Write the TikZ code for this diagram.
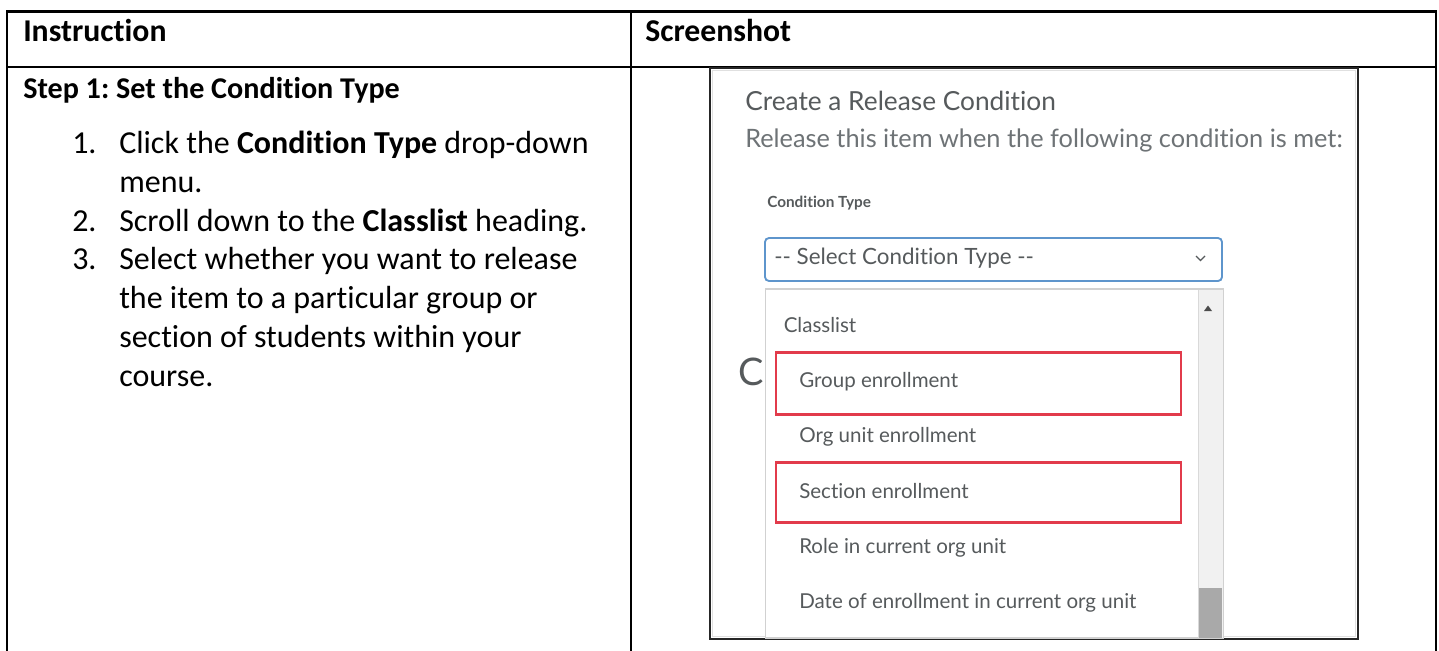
\documentclass[tikz,border=0pt]{standalone}
\usepackage{fontspec}
\setmainfont{Carlito}[Ligatures=NoCommon]
\newfontfamily\lato{Lato}[Ligatures=NoCommon]
\frenchspacing
\definecolor{uigray}{HTML}{565A5C}
\definecolor{uilight}{HTML}{6E7376}
\definecolor{ddblue}{HTML}{5E95CC}
\definecolor{redmark}{HTML}{E23B4B}
\definecolor{trackgray}{HTML}{F1F1F1}
\definecolor{thumbgray}{HTML}{A9A9A9}
\tikzset{
  tabline/.style={line width=1.9pt, line cap=rect},
  hdrtext/.style={anchor=base west, inner sep=0pt, font=\bfseries\fontsize{23.8}{28}\selectfont},
  steptext/.style={anchor=base west, inner sep=0pt, font=\bfseries\fontsize{22.6}{28}\selectfont},
  bodytext/.style={anchor=base west, inner sep=0pt, font=\fontsize{24}{29}\selectfont},
  uititle/.style={anchor=base west, inner sep=0pt, text=uigray, font=\lato\fontsize{19.7}{22}\selectfont},
  uisub/.style={anchor=base west, inner sep=0pt, text=uilight, font=\lato\fontsize{19}{21}\selectfont},
  uilabel/.style={anchor=base west, inner sep=0pt, text=uigray, font=\lato\bfseries\fontsize{11.5}{13}\selectfont},
  uiitem/.style={anchor=base west, inner sep=0pt, text=uigray, font=\lato\fontsize{15.4}{17}\selectfont},
  uiselect/.style={anchor=base west, inner sep=0pt, text=uigray, font=\lato\fontsize{16.8}{18}\selectfont},
  redbox/.style={draw=redmark, line width=2.1pt},
}
\begin{document}
\begin{tikzpicture}[x=0.75pt,y=-0.75pt]
\useasboundingbox (0,0) rectangle (1439,650);
\fill[white] (0,0) rectangle (1439,650);
% table frame
\draw[tabline] (7,650) -- (7,11.5) -- (1436,11.5) -- (1436,650);
\draw[tabline] (7,67) -- (1436,67);
\draw[tabline] (631,11.5) -- (631,650);
% header
\node[hdrtext] (hInstr) at (23,41.7) {Instruction};
\node[hdrtext] (hShot) at (645,41.7) {Screenshot};
% instructions
\node[steptext] (step) at (23,98.3) {Step 1: Set the Condition Type};
\node[bodytext] (n1) at (72,153.3) {1.};
\node[bodytext] (l1) at (119,153.3) {Click the \textbf{Condition Type} drop-down};
\node[bodytext] (l1b) at (119,192.2) {menu.};
\node[bodytext] (n2) at (72,231) {2.};
\node[bodytext] (l2) at (119,231) {Scroll down to the \textbf{Classlist} heading.};
\node[bodytext] (n3) at (72,269.8) {3.};
\node[bodytext] (l3) at (119,269.8) {Select whether you want to release};
\node[bodytext] (l3b) at (119,308.6) {the item to a particular group or};
\node[bodytext] (l3c) at (119,347.4) {section of students within your};
\node[bodytext] (l3d) at (119,386.2) {course.};
% screenshot frame
\draw[line width=1.5pt, draw=black!85, fill=white] (710,68) rectangle (1358,639);
\draw[line width=0.8pt, draw=black!12] (712.5,70.5) rectangle (1355.5,636.5);
\node[uititle] (title) at (745,110) {Create a Release Condition};
\node[uisub] (sub) at (745,147) {Release this item when the following condition is met:};
\node[uilabel] (ctlabel) at (767,207) {Condition Type};
% dropdown
\draw[draw=ddblue, line width=1.4pt, rounded corners=3pt, fill=white] (765,238) rectangle (1222,281);
\node[uiselect] (sel) at (774,264) {-{}- Select Condition Type -{}-};
\draw[uigray, line width=1pt] (1196,256) -- (1200.5,260.5) -- (1205,256);
% big partially hidden C
\node[anchor=base west, inner sep=0pt, text=uigray, font=\lato\fontsize{28.5}{30}\selectfont] (bigC) at (738,385) {C};
% list box
\draw[draw=black!18, line width=0.8pt, fill=white] (765.5,289) rectangle (1223,638);
\fill[trackgray] (1198,289.5) rectangle (1222.5,637.5);
\draw[black!15, line width=0.6pt] (1198,289.5) -- (1198,637.5);
\fill[black!70] (1204,311) -- (1212,311) -- (1208,305.5) -- cycle;
\fill[thumbgray] (1199,588) rectangle (1221.5,638);
\node[uiitem] (classlist) at (783.5,332) {Classlist};
\draw[redbox] (776,352.5) rectangle (1181,414.5);
\node[uiitem] (group) at (799,387) {Group enrollment};
\node[uiitem] (orgunit) at (799,442) {Org unit enrollment};
\draw[redbox] (776,462.5) rectangle (1181,522.5);
\node[uiitem] (section) at (799,498) {Section enrollment};
\node[uiitem] (role) at (799,553) {Role in current org unit};
\node[uiitem] (date) at (799,608) {Date of enrollment in current org unit};
\end{tikzpicture}
\end{document}
